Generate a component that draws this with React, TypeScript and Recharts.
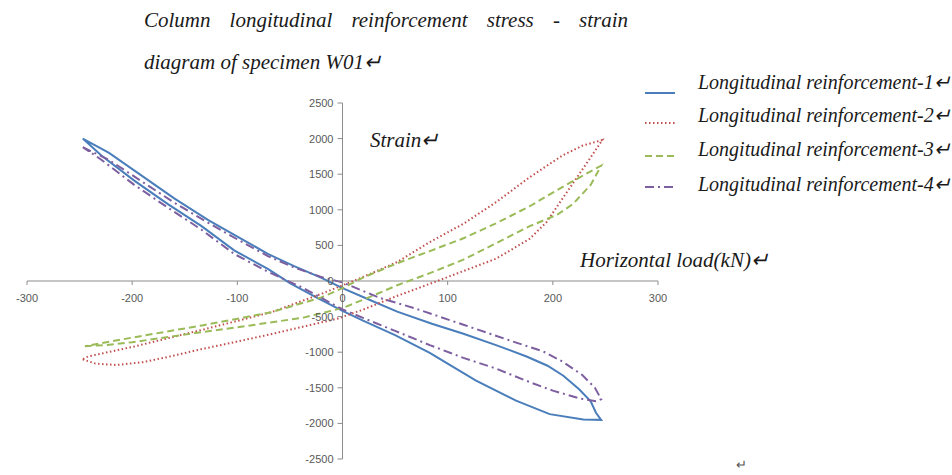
import React from "react"
import { LineChart, Line, XAxis, YAxis, ReferenceLine } from "recharts"

// horizontal load (kN) / strain, each loop in drawing order
const load1 = [-247, -222, -191, -160, -128, -97, -71, -46, -21, 0, 25, 52, 85, 115, 146, 175, 195, 210, 225, 236, 241, 246, 229, 197, 165, 127, 100, 83, 50, 20, 0, -25, -50, -71, -103, -134, -166, -198, -229, -247]
const strain1 = [2000, 1800, 1480, 1160, 860, 600, 380, 210, 50, -100, -260, -430, -600, -740, -900, -1060, -1190, -1330, -1520, -1690, -1850, -1950, -1945, -1870, -1680, -1400, -1160, -1010, -760, -560, -420, -230, -30, 170, 430, 770, 1080, 1410, 1760, 2000]

const load2 = [-247, -235, -215, -190, -167, -135, -103, -72, -40, -5, 20, 50, 83, 115, 146, 178, 194, 209, 222, 235, 247, 228, 209, 178, 146, 115, 83, 52, 20, 0, -20, -68, -132, -198, -242, -247]
const strain2 = [-1100, -1160, -1180, -1140, -1070, -960, -860, -760, -650, -530, -400, -220, -40, 140, 313, 593, 827, 1154, 1435, 1715, 1980, 1900, 1762, 1458, 1107, 804, 547, 266, 60, -60, -180, -440, -680, -920, -1060, -1100]

const load3 = [-245, -225, -200, -163, -100, -37, 0, 25, 52, 83, 115, 146, 178, 204, 219, 236, 246, 236, 209, 178, 146, 115, 83, 52, 20, 0, -20, -68, -132, -198, -245]
const strain3 = [-916, -900, -860, -780, -650, -514, -380, -230, -60, 110, 300, 530, 770, 930, 1080, 1350, 1620, 1540, 1320, 1050, 810, 600, 420, 250, 50, -100, -230, -440, -620, -790, -916]

const load4 = [-247, -222, -191, -160, -128, -97, -71, -46, -21, 0, 36, 68, 115, 162, 191, 209, 228, 240, 246, 241, 226, 200, 178, 146, 115, 83, 50, 20, 0, -21, -40, -71, -103, -134, -166, -198, -229, -247]
const strain4 = [1880, 1700, 1400, 1100, 820, 560, 350, 190, 60, -20, -240, -380, -614, -850, -990, -1130, -1320, -1500, -1660, -1690, -1650, -1540, -1420, -1230, -1080, -900, -700, -521, -400, -230, -80, 130, 380, 720, 1030, 1350, 1700, 1880]

const xTicks = [-300, -200, -100, 0, 100, 200, 300]
const yTicks = [-2500, -2000, -1500, -1000, -500, 0, 500, 1000, 1500, 2000, 2500]

const seriesNames = [
  "Longitudinal reinforcement-1",
  "Longitudinal reinforcement-2",
  "Longitudinal reinforcement-3",
  "Longitudinal reinforcement-4",
]

const toPoints = (xs: number[], ys: number[]) => xs.map((x, i) => ({ x, y: ys[i] }))

const SERIES = [
  { name: seriesNames[0], data: toPoints(load1, strain1), color: "#4a7ebb", dash: undefined, width: 2 },
  { name: seriesNames[1], data: toPoints(load2, strain2), color: "#c0504d", dash: "1.5 2.5", width: 2 },
  { name: seriesNames[2], data: toPoints(load3, strain3), color: "#9bbb59", dash: "7 4", width: 2 },
  { name: seriesNames[3], data: toPoints(load4, strain4), color: "#7d5fa0", dash: "9 4 2 4", width: 2 },
]

const W = 952
const H = 475
const PLOT = { left: 27, top: 103, width: 631, height: 356 }
const ZX = PLOT.left + PLOT.width / 2
const ZY = PLOT.top + PLOT.height / 2
const AXIS = "#8c8c8c"
const TICK_TEXT = "#595959"
const SANS = "'Liberation Sans', Arial, sans-serif"
const SERIF = "'Liberation Serif', 'Times New Roman', serif"

const XTick = (props: any) => {
  const { x, payload } = props
  return (
    <g>
      <line x1={x} x2={x} y1={ZY} y2={ZY + 4} stroke={AXIS} />
      <text x={x} y={ZY + 17} textAnchor="middle" dominantBaseline="central" fontSize={11} fill={TICK_TEXT} fontFamily={SANS}>
        {payload.value}
      </text>
    </g>
  )
}

const YTick = (props: any) => {
  const { y, payload } = props
  return (
    <g>
      <line x1={ZX - 5} x2={ZX} y1={y} y2={y} stroke={AXIS} />
      <text x={ZX - 9} y={y} textAnchor="end" dominantBaseline="central" fontSize={11} fill={TICK_TEXT} fontFamily={SANS}>
        {payload.value}
      </text>
    </g>
  )
}

// legend rows: text centre / sample line y
const legendRows = [
  { text: 82, line: 93 },
  { text: 115, line: 123 },
  { text: 149, line: 156 },
  { text: 184, line: 187 },
]

const textStyle: React.CSSProperties = {
  position: "absolute",
  fontFamily: SERIF,
  fontStyle: "italic",
  fontSize: 21,
  color: "#1a1a1a",
  whiteSpace: "nowrap",
  lineHeight: "26px",
}

export default function App() {
  return (
    <div style={{ position: "absolute", left: 0, top: 0, width: W, height: H, background: "#fff", overflow: "hidden" }}>
      <LineChart
        width={W}
        height={H}
        margin={{ top: PLOT.top, left: PLOT.left - 1, right: W - PLOT.left - PLOT.width, bottom: H - PLOT.top - PLOT.height - 1 }}
      >
        <XAxis
          type="number"
          dataKey="x"
          domain={[-300, 300]}
          ticks={xTicks}
          height={1}
          axisLine={false}
          tickLine={false}
          tick={(p: any) => <XTick {...p} />}
          interval={0}
        />
        <YAxis
          type="number"
          dataKey="y"
          domain={[-2500, 2500]}
          ticks={yTicks}
          width={1}
          axisLine={false}
          tickLine={false}
          tick={(p: any) => <YTick {...p} />}
          interval={0}
        />
        <ReferenceLine y={0} stroke={AXIS} />
        <ReferenceLine x={0} stroke={AXIS} />
        {SERIES.map((s) => (
          <Line
            key={s.name}
            name={s.name}
            data={s.data}
            dataKey="y"
            type="linear"
            stroke={s.color}
            strokeWidth={s.width}
            strokeDasharray={s.dash}
            dot={false}
            activeDot={false}
            isAnimationActive={false}
          />
        ))}
      </LineChart>

      <div style={{ ...textStyle, left: 144, top: 7, width: 484, textAlign: "justify", textAlignLast: "justify" }}>
        Column longitudinal reinforcement stress - strain
      </div>
      <div style={{ ...textStyle, left: 144, top: 49 }}>diagram of specimen W01↵</div>
      <div style={{ ...textStyle, left: 370, top: 127 }}>Strain↵</div>
      <div style={{ ...textStyle, left: 580, top: 247 }}>Horizontal load(kN)↵</div>
      <div style={{ ...textStyle, left: 736, top: 452, fontSize: 13, fontStyle: "normal", color: "#555" }}>↵</div>

      {SERIES.map((s, i) => (
        <React.Fragment key={s.name}>
          <svg style={{ position: "absolute", left: 644, top: legendRows[i].line - 3 }} width={32} height={6}>
            <line x1={1} x2={31} y1={3} y2={3} stroke={s.color} strokeWidth={2} strokeDasharray={s.dash} />
          </svg>
          <div style={{ ...textStyle, left: 698, top: legendRows[i].text - 13, fontSize: 20 }}>{s.name}↵</div>
        </React.Fragment>
      ))}
    </div>
  )
}
